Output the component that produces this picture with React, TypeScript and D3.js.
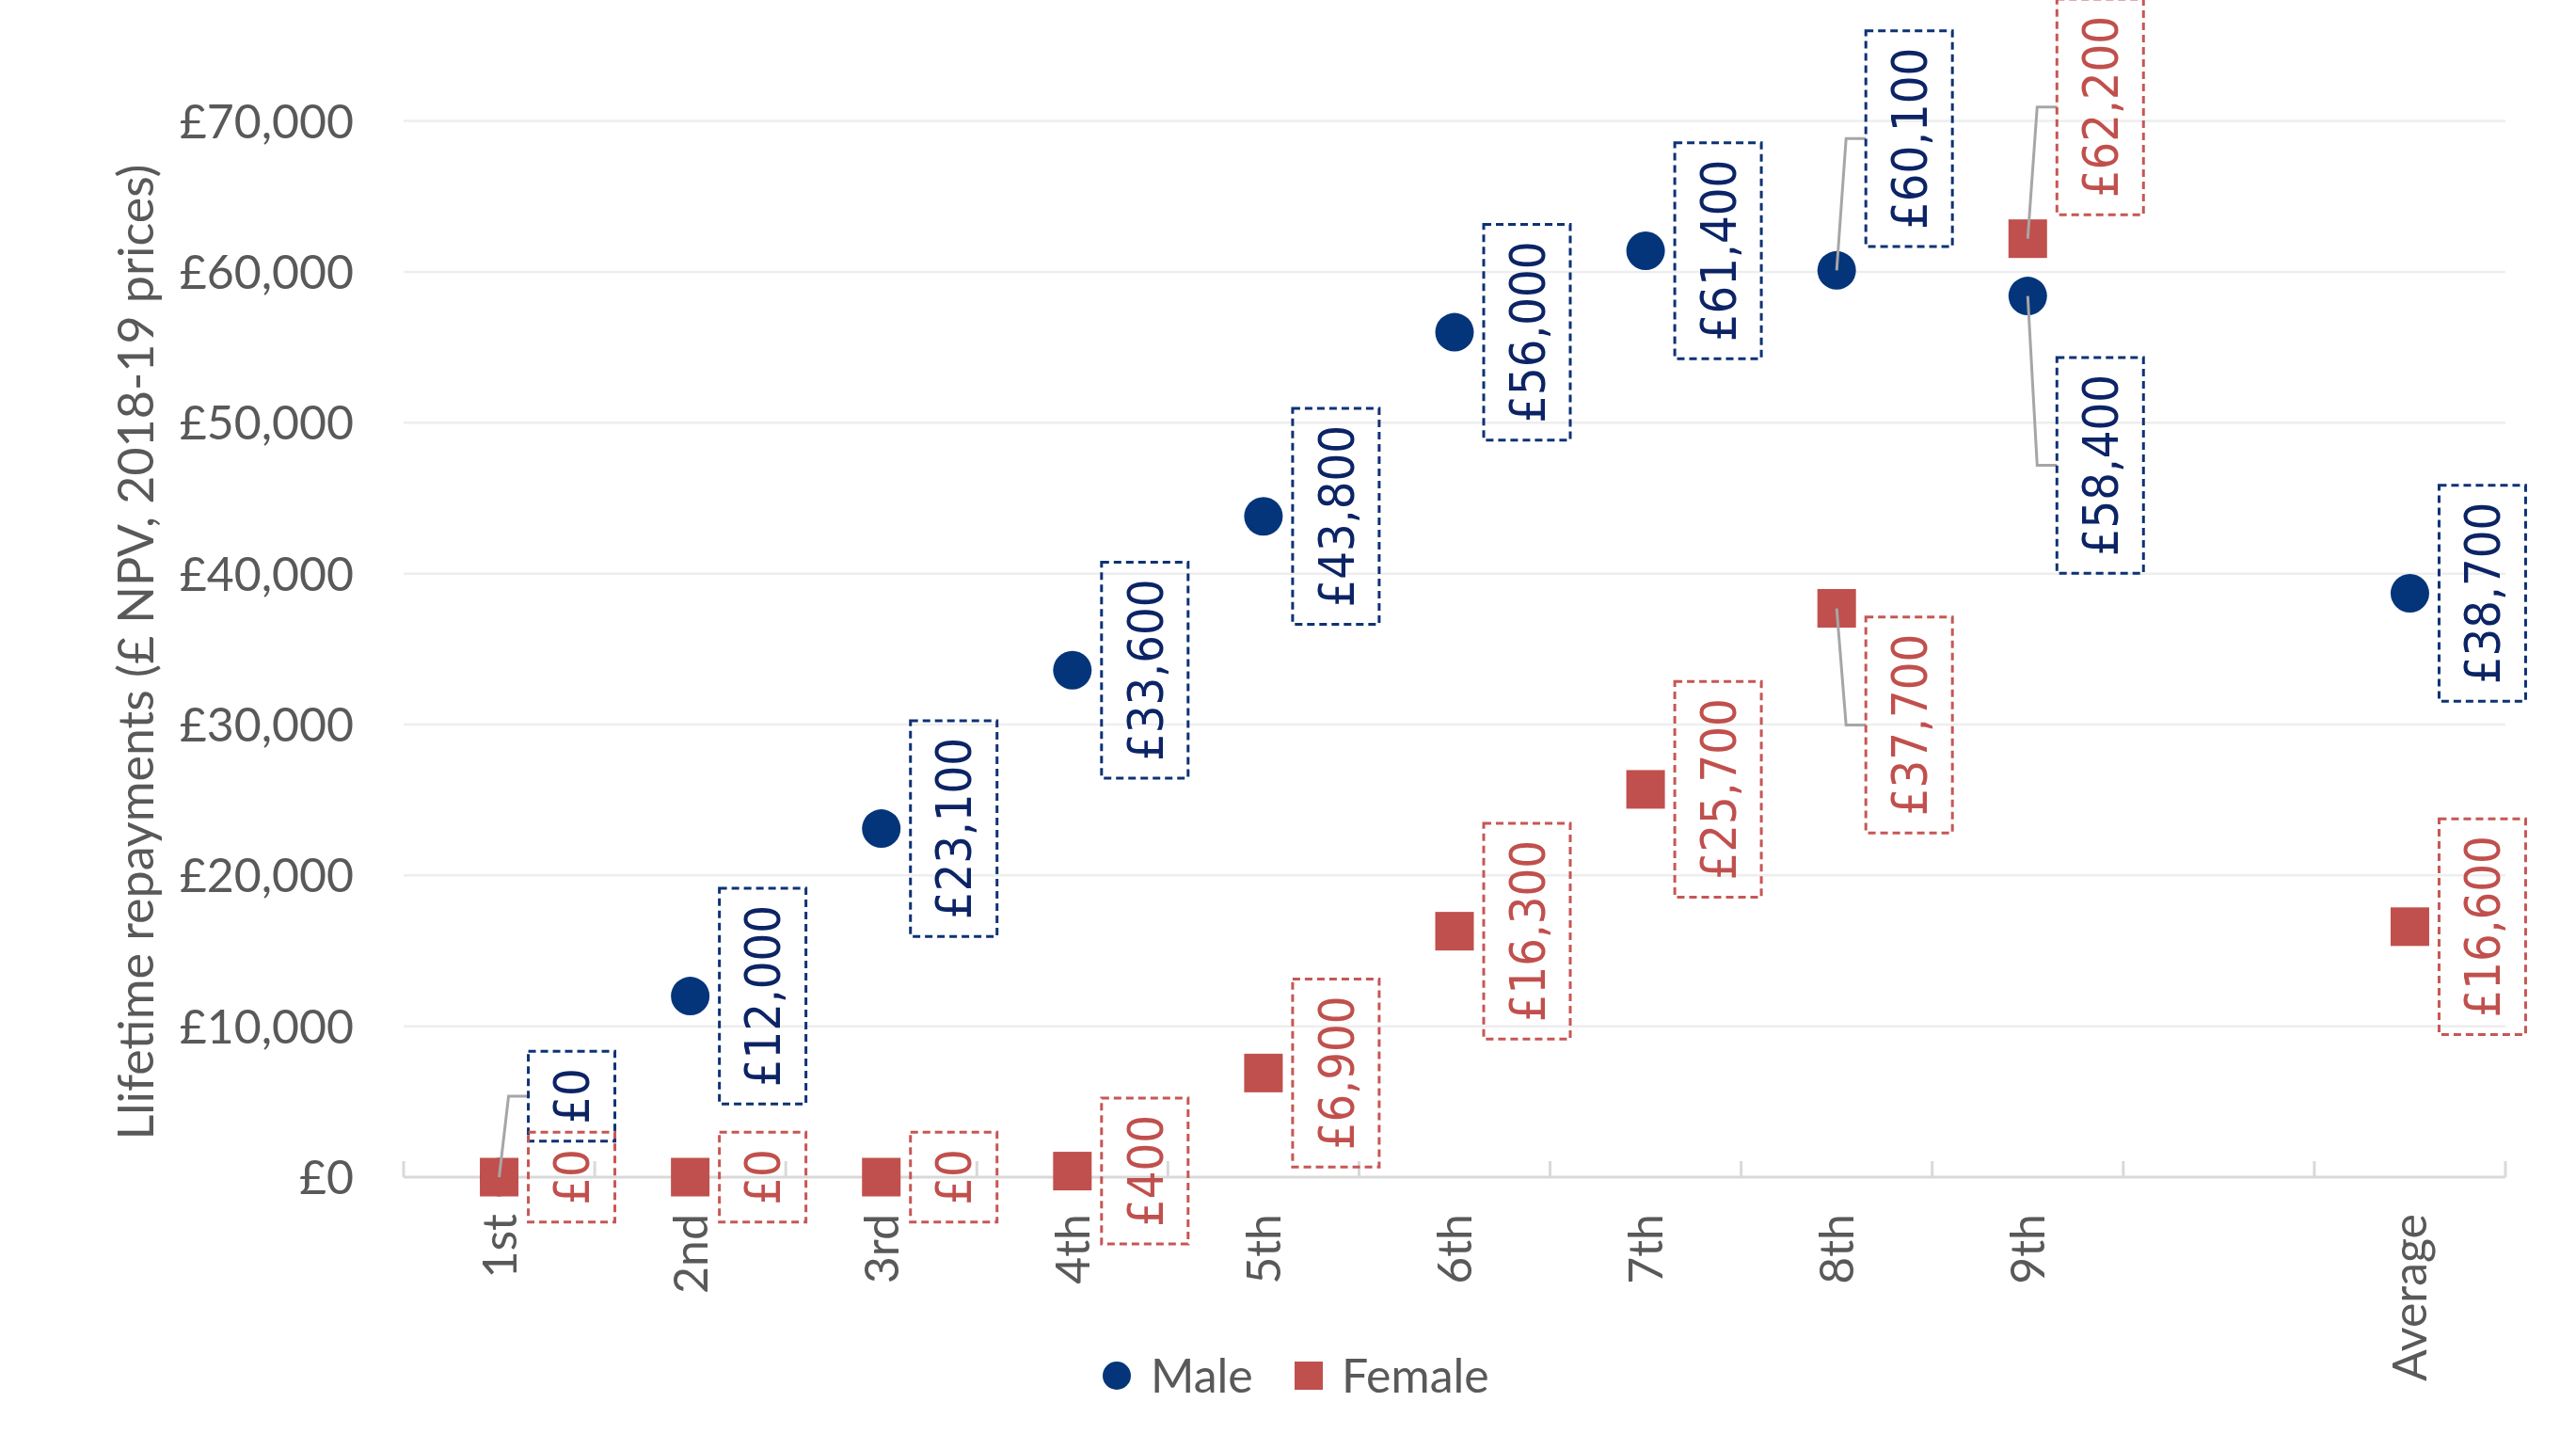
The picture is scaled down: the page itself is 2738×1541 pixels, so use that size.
import React, { useEffect, useRef } from "react";
import * as d3 from "d3";

const categories = ["1st", "2nd", "3rd", "4th", "5th", "6th", "7th", "8th", "9th", " ", "Average"];
const maleValues: (number | null)[] = [0, 12000, 23100, 33600, 43800, 56000, 61400, 60100, 58400, null, 38700];
const femaleValues: (number | null)[] = [0, 0, 0, 400, 6900, 16300, 25700, 37700, 62200, null, 16600];
const yTicks = [0, 10000, 20000, 30000, 40000, 50000, 60000, 70000];
const seriesNames = ["Male", "Female"];

// label displacement (pixels) for labels that were moved off their point, with leader lines
const maleLabelShift: Record<number, number> = { 0: -86, 7: -140, 8: 180 };
const femaleLabelShift: Record<number, number> = { 7: 124, 8: -140 };

const W = 2738;
const H = 1541;
const MALE = "#04357A";
const MALE_TEXT = "#0C2466";
const MALE_BOX = "#0D3275";
const FEMALE = "#C0504D";
const FEMALE_BOX = "#C65754";
const AXIS_TEXT = "#595959";
const AXIS_FONT = "Lato, 'Open Sans', sans-serif";
const LABEL_FONT = "'DejaVu Sans Condensed', 'DejaVu Sans', sans-serif";

export default function App() {
  const ref = useRef<SVGSVGElement | null>(null);

  useEffect(() => {
    const svg = d3.select(ref.current);
    svg.selectAll("*").remove();

    const x = d3.scaleBand<string>().domain(categories).range([429, 2663]).padding(0);
    const y = d3.scaleLinear().domain([0, 70000]).range([1251, 128.6]);
    const cx = (c: string) => (x(c) as number) + x.bandwidth() / 2;
    const fmt = (v: number) => "£" + d3.format(",")(v);

    // gridlines
    svg.append("g")
      .selectAll("line")
      .data(yTicks.filter((t) => t > 0))
      .join("line")
      .attr("x1", 429)
      .attr("x2", 2663)
      .attr("y1", (d) => y(d))
      .attr("y2", (d) => y(d))
      .attr("stroke", "#EEEEEE")
      .attr("stroke-width", 2.5);

    // y tick labels
    svg.append("g")
      .selectAll("text")
      .data(yTicks)
      .join("text")
      .attr("x", 376)
      .attr("y", (d) => y(d))
      .attr("dy", "0.36em")
      .attr("text-anchor", "end")
      .attr("font-family", AXIS_FONT)
      .attr("font-size", 50)
      .attr("fill", AXIS_TEXT)
      .text((d) => fmt(d));

    // x axis line and ticks
    svg.append("line")
      .attr("x1", 429)
      .attr("x2", 2663)
      .attr("y1", y(0))
      .attr("y2", y(0))
      .attr("stroke", "#D9D9D9")
      .attr("stroke-width", 3);
    const bounds = d3.range(categories.length + 1).map((i) => 429 + i * x.bandwidth());
    svg.append("g")
      .selectAll("line")
      .data(bounds)
      .join("line")
      .attr("x1", (d) => d)
      .attr("x2", (d) => d)
      .attr("y1", y(0))
      .attr("y2", y(0) - 17)
      .attr("stroke", "#D9D9D9")
      .attr("stroke-width", 3);

    // x category labels
    svg.append("g")
      .selectAll("text")
      .data(categories)
      .join("text")
      .attr("transform", (d) => `translate(${cx(d)},1290) rotate(-90)`)
      .attr("dy", "0.36em")
      .attr("text-anchor", "end")
      .attr("font-family", AXIS_FONT)
      .attr("font-size", 50)
      .attr("fill", AXIS_TEXT)
      .text((d) => d.trim());

    // axis title
    svg.append("text")
      .attr("transform", "translate(163,693) rotate(-90)")
      .attr("text-anchor", "middle")
      .attr("font-family", AXIS_FONT)
      .attr("font-size", 52)
      .attr("fill", AXIS_TEXT)
      .text("Llifetime repayments (£ NPV, 2018-19 prices)");

    const malePts = categories
      .map((c, i) => ({ c, i, v: maleValues[i] }))
      .filter((d) => d.v !== null) as { c: string; i: number; v: number }[];
    const femalePts = categories
      .map((c, i) => ({ c, i, v: femaleValues[i] }))
      .filter((d) => d.v !== null) as { c: string; i: number; v: number }[];

    // markers
    svg.append("g")
      .selectAll("circle")
      .data(malePts)
      .join("circle")
      .attr("cx", (d) => cx(d.c))
      .attr("cy", (d) => y(d.v))
      .attr("r", 20.5)
      .attr("fill", MALE);
    const sq = 41;
    svg.append("g")
      .selectAll("rect")
      .data(femalePts)
      .join("rect")
      .attr("x", (d) => cx(d.c) - sq / 2)
      .attr("y", (d) => y(d.v) - sq / 2)
      .attr("width", sq)
      .attr("height", sq)
      .attr("fill", FEMALE);

    // data labels
    const drawLabels = (
      pts: { c: string; i: number; v: number }[],
      shift: Record<number, number>,
      textColor: string,
      boxColor: string
    ) => {
      const leaders = svg.append("g");
      const g = svg.append("g");
      pts.forEach((d) => {
        const mx = cx(d.c);
        const my = y(d.v);
        const s = shift[d.i] || 0;
        const boxLeft = mx + 31;
        const boxW = 92;
        const bcx = boxLeft + boxW / 2;
        const bcy = my + s;
        const t = g.append("text")
          .attr("transform", `translate(${bcx},${bcy}) rotate(-90)`)
          .attr("dy", "0.36em")
          .attr("text-anchor", "middle")
          .attr("font-family", LABEL_FONT)
          .attr("font-size", 52)
          .attr("fill", textColor)
          .text(fmt(d.v));
        const len = (t.node() as SVGTextElement).getComputedTextLength();
        const boxH = len + 36;
        g.insert("rect", "text")
          .attr("x", boxLeft)
          .attr("y", bcy - boxH / 2)
          .attr("width", boxW)
          .attr("height", boxH)
          .attr("fill", "none")
          .attr("stroke", boxColor)
          .attr("stroke-width", 3)
          .attr("stroke-dasharray", "8,5");
        if (s !== 0) {
          leaders.append("polyline")
            .attr("points", `${mx},${my} ${boxLeft - 21},${bcy} ${boxLeft},${bcy}`)
            .attr("fill", "none")
            .attr("stroke", "#A6A6A6")
            .attr("stroke-width", 3);
        }
      });
    };
    drawLabels(malePts, maleLabelShift, MALE_TEXT, MALE_BOX);
    drawLabels(femalePts, femaleLabelShift, FEMALE, FEMALE_BOX);

    // legend
    const lg = svg.append("g");
    lg.append("circle").attr("cx", 1187).attr("cy", 1462).attr("r", 15).attr("fill", MALE);
    lg.append("text")
      .attr("x", 1223)
      .attr("y", 1462)
      .attr("dy", "0.36em")
      .attr("font-family", AXIS_FONT)
      .attr("font-size", 50)
      .attr("fill", AXIS_TEXT)
      .text(seriesNames[0]);
    lg.append("rect").attr("x", 1376).attr("y", 1447).attr("width", 30).attr("height", 30).attr("fill", FEMALE);
    lg.append("text")
      .attr("x", 1426)
      .attr("y", 1462)
      .attr("dy", "0.36em")
      .attr("font-family", AXIS_FONT)
      .attr("font-size", 50)
      .attr("fill", AXIS_TEXT)
      .text(seriesNames[1]);
  }, []);

  return (
    <svg
      ref={ref}
      width={W}
      height={H}
      style={{ position: "absolute", left: 0, top: 0, display: "block", background: "#fff" }}
    />
  );
}
